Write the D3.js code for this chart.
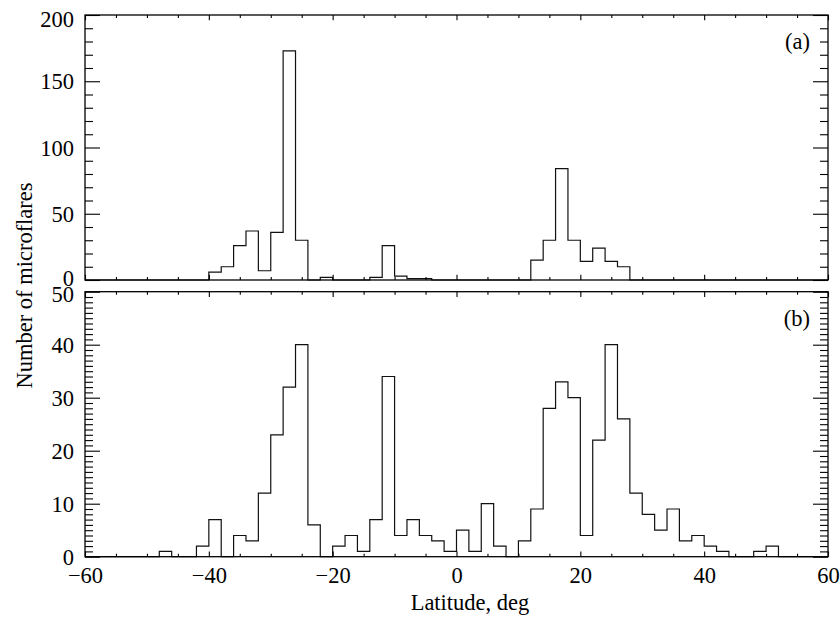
<!DOCTYPE html>
<html>
<head>
<meta charset="utf-8">
<script src="https://cdn.jsdelivr.net/npm/d3@7/dist/d3.min.js"></script>
<style>
  html, body { margin: 0; padding: 0; background: #fff; }
  svg text { font-family: "Liberation Serif", "Times New Roman", serif; fill: #000; }
</style>
</head>
<body>
<svg id="chart" width="840" height="619"></svg>
<script>
// Latitude bin left edges (deg), bin width 2 deg
const binEdges = [-60,-58,-56,-54,-52,-50,-48,-46,-44,-42,-40,-38,-36,-34,-32,-30,-28,-26,-24,-22,
                  -20,-18,-16,-14,-12,-10,-8,-6,-4,-2,0,2,4,6,8,10,12,14,16,18,
                  20,22,24,26,28,30,32,34,36,38,40,42,44,46,48,50,52,54,56,58];
const binWidth = 2;

// Panel (a) counts
const countsA = [0,0,0,0,0,0,0,0,0,0, 6,10,26,37,7,36,173,30,0,2,
                 0,0,0,2,26,3,1,1,0,0, 0,0,0,0,0,0,15,30,84,30,
                 14,24,14,10,0,0,0,0,0,0, 0,0,0,0,0,0,0,0,0,0];
// Panel (b) counts
const countsB = [0,0,0,0,0,0,1,0,0,2, 7,0,4,3,12,23,32,40,6,0,
                 2,4,1,7,34,4,7,4,3,1, 5,1,10,2,0,3,9,28,33,30,
                 4,22,40,26,12,8,5,9,3,4, 2,1,0,0,1,2,0,0,0,0];

const xTicksMajor = [-60,-40,-20,0,20,40,60];
const xTicksMinor = [-55,-50,-45,-35,-30,-25,-15,-10,-5,5,10,15,25,30,35,45,50,55];
const yTicksA = [0,50,100,150,200];
const yTicksB = [0,10,20,30,40,50];
const panelLabels = ["(a)", "(b)"];
const xTitle = "Latitude, deg";
const yTitle = "Number of microflares";

const svg = d3.select("#chart");
const FONT = 22.5;
const left = 85, right = 828;
const x = d3.scaleLinear().domain([-60, 60]).range([left, right]);

const panels = [
  { top: 15, bottom: 280, max: 200, major: yTicksA, minorStep: 10, counts: countsA, label: panelLabels[0], showX: false, labelShift: {top: 3.5, bottom: -2.5} },
  { top: 291.7, bottom: 556.7, max: 50, major: yTicksB, minorStep: 1, counts: countsB, label: panelLabels[1], showX: true, labelShift: {top: 2.5, bottom: 0.5} }
];

panels.forEach((p) => {
  const y = d3.scaleLinear().domain([0, p.max]).range([p.bottom, p.top]);
  const g = svg.append("g");
  const h = p.bottom - p.top;
  const W = right - left;
  const yMajLen = 15, yMinLen = 8;
  const xMajLen = 5.3, xMinLen = 3;
  const minorY = d3.range(0, p.max + 1e-9, p.minorStep).filter(v => !p.major.includes(v));

  // histogram step line
  const pts = binEdges.map((e, i) => ({ x: e, v: p.counts[i] }));
  pts.push({ x: binEdges[binEdges.length - 1] + binWidth, v: p.counts[p.counts.length - 1] });
  const line = d3.line().x(d => x(d.x)).y(d => y(d.v)).curve(d3.curveStepAfter);
  g.append("path").attr("d", line(pts))
    .attr("fill", "none").attr("stroke", "#111").attr("stroke-width", 1.2);

  // left axis (major with labels)
  const axL = g.append("g").attr("transform", `translate(${left},0)`)
    .call(d3.axisLeft(y).tickValues(p.major).tickSize(-yMajLen).tickPadding(11).tickFormat(d3.format("d")));
  axL.select(".domain").remove();
  axL.selectAll("text").style("font-size", FONT + "px")
    .attr("dy", d => {
      let s = 0;
      if (d === p.max) s = p.labelShift.top;
      if (d === 0) s = p.labelShift.bottom;
      return (0.34 * FONT + s) + "px";
    });
  g.append("g").attr("transform", `translate(${left},0)`)
    .call(d3.axisLeft(y).tickValues(minorY).tickSize(-yMinLen).tickFormat(""))
    .select(".domain").remove();

  // right axis
  g.append("g").attr("transform", `translate(${right},0)`)
    .call(d3.axisRight(y).tickValues(p.major).tickSize(-yMajLen).tickFormat(""))
    .select(".domain").remove();
  g.append("g").attr("transform", `translate(${right},0)`)
    .call(d3.axisRight(y).tickValues(minorY).tickSize(-yMinLen).tickFormat(""))
    .select(".domain").remove();

  // top x axis
  g.append("g").attr("transform", `translate(0,${p.top})`)
    .call(d3.axisTop(x).tickValues(xTicksMajor).tickSize(-xMajLen).tickFormat(""))
    .select(".domain").remove();
  g.append("g").attr("transform", `translate(0,${p.top})`)
    .call(d3.axisTop(x).tickValues(xTicksMinor).tickSize(-xMinLen).tickFormat(""))
    .select(".domain").remove();

  // bottom x axis
  const axB = g.append("g").attr("transform", `translate(0,${p.bottom})`)
    .call(d3.axisBottom(x).tickValues(xTicksMajor).tickSize(-xMajLen)
      .tickFormat(p.showX ? d3.format("d") : ""));
  axB.select(".domain").remove();
  if (p.showX) {
    axB.selectAll("text").style("font-size", FONT + "px").attr("y", 26.5).attr("dy", 0);
  }
  g.append("g").attr("transform", `translate(0,${p.bottom})`)
    .call(d3.axisBottom(x).tickValues(xTicksMinor).tickSize(-xMinLen).tickFormat(""))
    .select(".domain").remove();

  g.selectAll(".tick line").attr("stroke", "#000").attr("stroke-width", 1.1);

  // frame
  g.append("rect").attr("x", left).attr("y", p.top).attr("width", W).attr("height", h)
    .attr("fill", "none").attr("stroke", "#000").attr("stroke-width", 1.3);

  // panel label
  g.append("text").attr("x", 810).attr("y", p.top + 34)
    .attr("text-anchor", "end").style("font-size", FONT + "px").text(p.label);
});

// axis titles
svg.append("text").attr("x", 470).attr("y", 610)
  .attr("text-anchor", "middle").style("font-size", FONT + "px").text(xTitle);
svg.append("text")
  .attr("transform", "translate(31.5,285.5) rotate(-90)")
  .attr("text-anchor", "middle").style("font-size", FONT + "px").text(yTitle);
</script>
</body>
</html>
